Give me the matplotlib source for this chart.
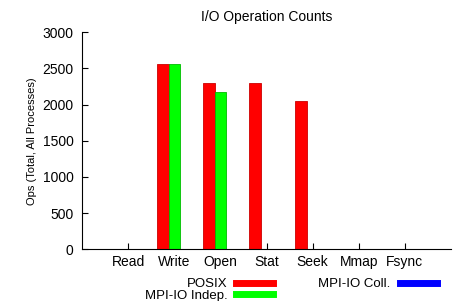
import matplotlib
matplotlib.use("Agg")
import matplotlib.pyplot as plt
from matplotlib.lines import Line2D
import numpy as np

categories = ["Read", "Write", "Open", "Stat", "Seek", "Mmap", "Fsync"]
posix = [0, 2560, 2304, 2304, 2048, 0, 0]
mpiio_indep = [0, 2560, 2176, 0, 0, 0, 0]
mpiio_coll = [0, 0, 0, 0, 0, 0, 0]
series_names = ["POSIX", "MPI-IO Indep.", "MPI-IO Coll."]
yticks = [0, 500, 1000, 1500, 2000, 2500, 3000]

plt.rcParams['font.family'] = ['Liberation Sans', 'DejaVu Sans']

fig = plt.figure(figsize=(4.56, 3.01), dpi=100)
ax = fig.add_axes([0.180, 0.172, 0.809, 0.721])

x = np.arange(1, len(categories) + 1)
w = 0.25
colors = ["#ff0000", "#00ff00", "#0000ff"]
edges = ["#cc0000", "#00bb00", "#0000aa"]
for i, vals in enumerate([posix, mpiio_indep, mpiio_coll]):
    ax.bar(x + (i - 1) * w, vals, width=w, color=colors[i], edgecolor=edges[i],
           linewidth=0.6, zorder=2)

ax.set_xlim(0, 8)
ax.set_ylim(0, 3000)
ax.set_xticks(x)
ax.set_xticklabels(categories)
ax.set_yticks(yticks)
ax.tick_params(direction='in', length=4, width=0.8, labelsize=10)
ax.tick_params(axis='x', pad=4)
ax.tick_params(axis='y', pad=6)
for s in ["top", "right"]:
    ax.spines[s].set_visible(False)
for s in ["left", "bottom"]:
    ax.spines[s].set_linewidth(0.8)
ax.set_title("I/O Operation Counts", fontsize=10, pad=8)
ax.set_ylabel("Ops (Total, All Processes)", fontsize=8, labelpad=4)

handles = [Line2D([0], [0], color=c, lw=5) for c in colors]
fig.legend(handles, series_names, loc='center left', bbox_to_anchor=(0.317, 0.037),
           ncol=2, frameon=False, markerfirst=False, fontsize=9.5,
           handlelength=2.8, handletextpad=0.7, columnspacing=3.4,
           labelspacing=-0.05, borderaxespad=0, borderpad=0)

fig.savefig("out.png", dpi=100)
